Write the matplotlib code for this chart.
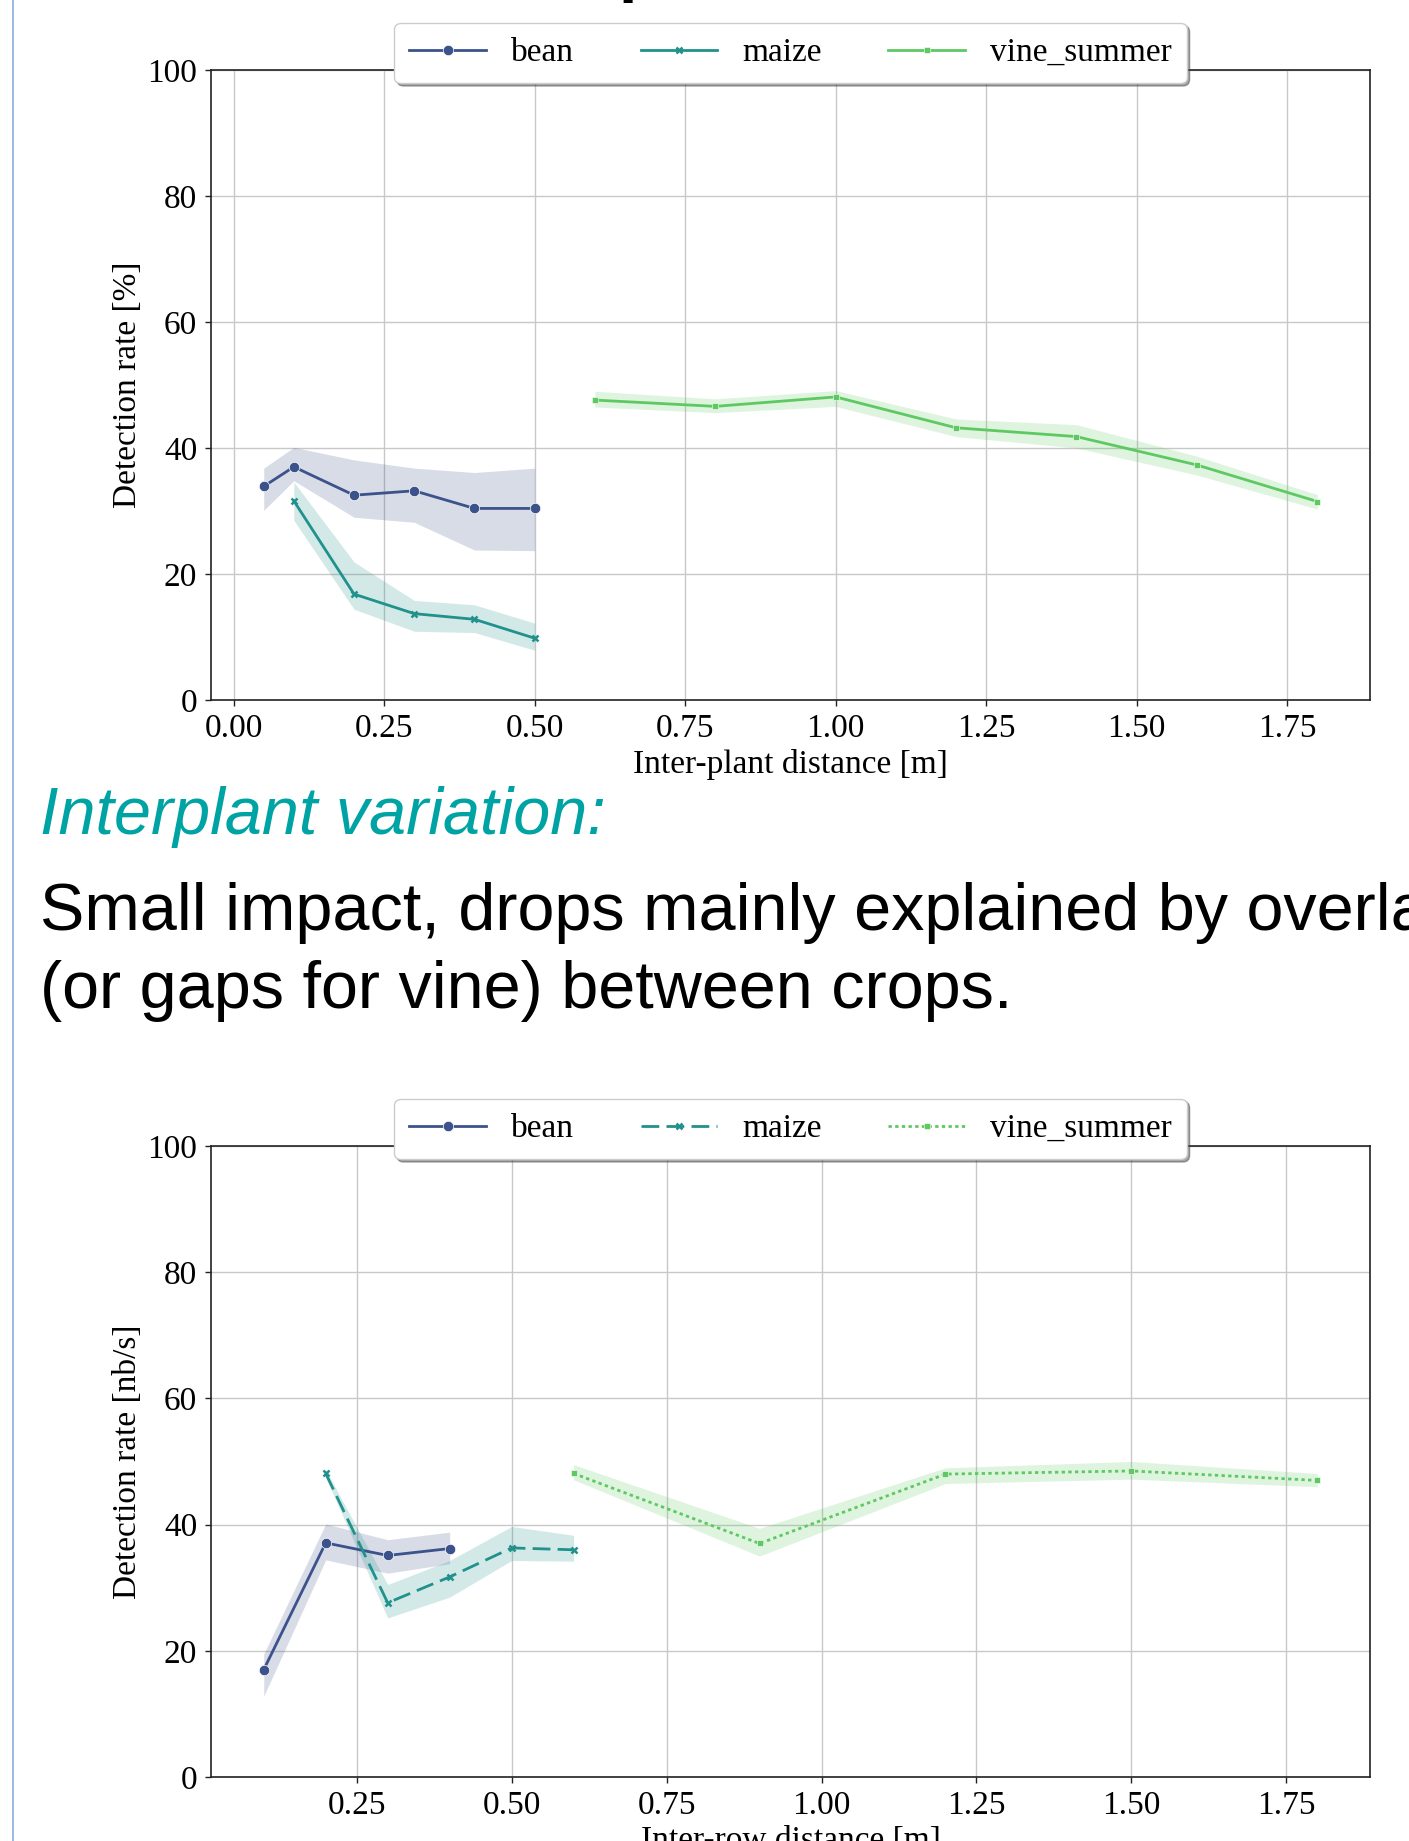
import matplotlib
matplotlib.use("Agg")
import matplotlib.pyplot as plt
from matplotlib.ticker import MultipleLocator, FormatStrFormatter
from matplotlib.lines import Line2D

# ---------------- data ----------------
series_names = ["bean", "maize", "vine_summer"]
colors = ["#3b528b", "#21918c", "#5ec962"]

# Top: inter-plant distance vs detection rate [%]
top_bean_x = [0.05, 0.1, 0.2, 0.3, 0.4, 0.5]
top_bean_y = [33.9, 37.0, 32.5, 33.2, 30.4, 30.4]
top_bean_lo = [30.1, 34.8, 29.0, 28.2, 23.8, 23.7]
top_bean_hi = [36.8, 40.1, 38.1, 36.8, 36.1, 36.8]

top_maize_x = [0.1, 0.2, 0.3, 0.4, 0.5]
top_maize_y = [31.6, 16.8, 13.7, 12.8, 9.8]
top_maize_lo = [28.5, 14.4, 10.9, 10.7, 7.9]
top_maize_hi = [34.6, 21.9, 15.8, 15.1, 12.2]

top_vine_x = [0.6, 0.8, 1.0, 1.2, 1.4, 1.6, 1.8]
top_vine_y = [47.6, 46.6, 48.1, 43.2, 41.8, 37.3, 31.5]
top_vine_lo = [46.5, 45.6, 46.6, 41.8, 40.0, 35.7, 30.3]
top_vine_hi = [49.0, 47.8, 49.1, 44.6, 43.7, 38.7, 32.6]

# Bottom: inter-row distance vs detection rate [nb/s]
bot_bean_x = [0.1, 0.2, 0.3, 0.4]
bot_bean_y = [17.0, 37.1, 35.1, 36.2]
bot_bean_lo = [12.8, 34.4, 32.3, 33.8]
bot_bean_hi = [19.5, 40.1, 37.6, 38.8]

bot_maize_x = [0.2, 0.3, 0.4, 0.5, 0.6]
bot_maize_y = [48.1, 27.6, 31.7, 36.3, 36.0]
bot_maize_lo = [47.5, 25.2, 28.5, 34.3, 34.2]
bot_maize_hi = [48.7, 30.5, 34.3, 39.7, 38.3]

bot_vine_x = [0.6, 0.9, 1.2, 1.5, 1.8]
bot_vine_y = [48.1, 37.0, 48.0, 48.5, 47.0]
bot_vine_lo = [47.1, 35.0, 46.5, 47.2, 46.0]
bot_vine_hi = [49.5, 39.4, 49.0, 50.0, 48.1]

y_ticks = [0, 20, 40, 60, 80, 100]

heading = "Interplant variation:"
body_line1 = "Small impact, drops mainly explained by overlaps"
body_line2 = "(or gaps for vine) between crops."

# ---------------- style ----------------
SERIF = ["Liberation Serif", "DejaVu Serif"]
plt.rcParams["font.family"] = SERIF
plt.rcParams["font.size"] = 24

fig = plt.figure(figsize=(14.09, 18.41), dpi=100)

markers = ["o", "x", "s"]
msizes = [7.5, 5.0, 3.8]
mews = [0.5, 1.8, 0.4]
LW = 2.0


def draw_panel(ax, data, linestyles, xlabel, ylabel):
    handles = []
    for i, (xs, ys, lo, hi) in enumerate(data):
        c = colors[i]
        ax.fill_between(xs, lo, hi, color=c, alpha=0.2, linewidth=0, zorder=2)
        ln, = ax.plot(xs, ys, color=c, lw=LW, marker=markers[i],
                      markersize=msizes[i],
                      markeredgecolor=("white" if markers[i] != "x" else c),
                      markeredgewidth=mews[i], zorder=3)
        if linestyles[i] == "dashed":
            ln.set_dashes((3.2 * LW, 1.3 * LW))
        elif linestyles[i] == "dotted":
            ln.set_dashes((0.6 * LW, 0.6 * LW))
        handles.append(ln)
    ax.set_ylim(0, 100)
    ax.set_yticks(y_ticks)
    ax.xaxis.set_major_locator(MultipleLocator(0.25))
    ax.xaxis.set_major_formatter(FormatStrFormatter("%.2f"))
    ax.margins(x=0.05)
    ax.grid(True, color="#c8c8c8", lw=1.0, zorder=0)
    ax.set_axisbelow(True)
    for s in ax.spines.values():
        s.set_color("#222222")
        s.set_linewidth(1.2)
    ax.tick_params(axis="both", labelsize=24, length=4, width=1.0,
                   color="#222222", pad=6)
    ax.set_xlabel(xlabel, fontsize=24, labelpad=3)
    ax.set_ylabel(ylabel, fontsize=24, labelpad=3)
    leg = ax.legend(handles, series_names, loc="upper center",
                    bbox_to_anchor=(0.5, 1.075), borderaxespad=0, ncol=3,
                    fontsize=24, frameon=True, fancybox=True, shadow=True,
                    framealpha=1.0, edgecolor="#cccccc", handlelength=2.3,
                    handletextpad=0.75, columnspacing=2.0, borderpad=0.45)
    leg.set_zorder(10)
    return ax


ax1 = fig.add_axes([0.1498, 0.6198, 0.8225, 0.3422])
draw_panel(ax1,
           [(top_bean_x, top_bean_y, top_bean_lo, top_bean_hi),
            (top_maize_x, top_maize_y, top_maize_lo, top_maize_hi),
            (top_vine_x, top_vine_y, top_vine_lo, top_vine_hi)],
           ["solid", "solid", "solid"],
           "Inter-plant distance [m]", "Detection rate [%]")

ax2 = fig.add_axes([0.1498, 0.0348, 0.8225, 0.3427])
draw_panel(ax2,
           [(bot_bean_x, bot_bean_y, bot_bean_lo, bot_bean_hi),
            (bot_maize_x, bot_maize_y, bot_maize_lo, bot_maize_hi),
            (bot_vine_x, bot_vine_y, bot_vine_lo, bot_vine_hi)],
           ["solid", "dashed", "dotted"],
           "Inter-row distance [m]", "Detection rate [nb/s]")

# slide text
SANS = ["Liberation Sans", "DejaVu Sans"]
TX = 0.0283
fig.text(TX, 0.547, heading, family=SANS, style="italic",
         fontsize=47.9, color="#00a3a3", va="baseline", ha="left")
fig.text(TX, 0.4948, body_line1, family=SANS, fontsize=47.9,
         color="black", va="baseline", ha="left")
fig.text(TX, 0.4525, body_line2, family=SANS, fontsize=47.9,
         color="black", va="baseline", ha="left")

# cut-off slide title (only the descender is visible)
fig.text(0.4393, 1.006, "p", family=SANS, fontsize=47.5, color="black",
         va="baseline", ha="left", fontweight="bold")

# slide left border
fig.add_artist(Line2D([0.0095, 0.0095], [0, 1], transform=fig.transFigure,
                      color="#8faadc", lw=1.2))

fig.savefig("out.png", dpi=100)
